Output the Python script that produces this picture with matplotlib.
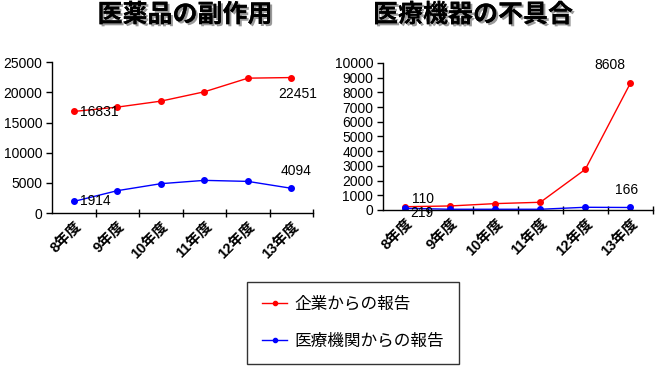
import matplotlib
matplotlib.use("Agg")
import matplotlib.pyplot as plt
import matplotlib.patheffects as pe

plt.rcParams['font.family'] = ['Liberation Sans', 'Noto Sans CJK JP']

# データ
years = ['8年度', '9年度', '10年度', '11年度', '12年度', '13年度']
drug_company = [16831, 17550, 18540, 20090, 22350, 22451]
drug_medical = [1914, 3700, 4860, 5410, 5240, 4094]
device_company = [219, 270, 430, 520, 2760, 8608]
device_medical = [110, 45, 45, 45, 180, 166]
series_names = ['企業からの報告', '医療機関からの報告']

fig = plt.figure(figsize=(6.58, 3.67), dpi=100)
ax1 = fig.add_axes([0.079, 0.4196, 0.397, 0.411])
ax2 = fig.add_axes([0.582, 0.428, 0.410, 0.4005])

x = list(range(len(years)))


def style_axis(ax, ymax, step):
    ax.set_xlim(-0.5, len(years) - 0.5)
    ax.set_ylim(0, ymax)
    ax.set_yticks(range(0, ymax + 1, step))
    ax.tick_params(axis='y', labelsize=10, length=4, width=1, pad=3)
    for s in ['top', 'right']:
        ax.spines[s].set_visible(False)
    ax.spines['left'].set_linewidth(1)
    ax.spines['bottom'].set_linewidth(1)
    # 目盛りは区切り位置、ラベルは中央
    ax.set_xticks([i + 0.5 for i in x[:-1]] + [len(years) - 0.5])
    ax.set_xticklabels([])
    ax.tick_params(axis='x', direction='inout', length=6, width=1)
    for i, yr in enumerate(years):
        ax.annotate(yr, (i, 0), xycoords=('data', 'axes fraction'),
                    xytext=(0, -6), textcoords='offset pixels',
                    rotation=45, ha='right', va='top', rotation_mode='anchor',
                    fontsize=10.5, fontweight='bold')


ax1.plot(x, drug_company, color='red', marker='o', markersize=4, lw=1)
ax1.plot(x, drug_medical, color='blue', marker='o', markersize=4, lw=1)
style_axis(ax1, 25000, 5000)

ax2.plot(x, device_company, color='red', marker='o', markersize=4, lw=1)
ax2.plot(x, device_medical, color='blue', marker='o', markersize=4, lw=1)
style_axis(ax2, 10000, 1000)

# データラベル
def label(ax, i, vals, dx, dy, ha='left'):
    ax.annotate(str(vals[i]), (i, vals[i]), xytext=(dx, dy),
                textcoords='offset pixels', fontsize=10, ha=ha, va='center')

label(ax1, 0, drug_company, 6, -1)
label(ax1, 5, drug_company, 6, -16, ha='center')
label(ax1, 0, drug_medical, 6, 0)
label(ax1, 5, drug_medical, 5, 17, ha='center')
label(ax2, 0, device_company, 5, -6)
label(ax2, 0, device_medical, 7, 9)
label(ax2, 5, device_company, -20, 18, ha='center')
label(ax2, 5, device_medical, -4, 17, ha='center')

# タイトル
shadow = [pe.withSimplePatchShadow(offset=(1.5, -1.5), shadow_rgbFace='gray', alpha=0.8), pe.Normal()]
fig.text(185 / 658, 1 - 15 / 367, '医薬品の副作用', fontsize=18, fontweight='bold',
         style='italic', ha='center', va='center', path_effects=shadow)
fig.text(473 / 658, 1 - 15 / 367, '医療機器の不具合', fontsize=18, fontweight='bold',
         style='italic', ha='center', va='center', path_effects=shadow)

# 凡例
h1, = ax2.plot([], [], color='red', marker='o', markersize=3, lw=1)
h2, = ax2.plot([], [], color='blue', marker='o', markersize=3, lw=1)
leg = fig.legend([h1, h2], series_names, loc='center',
                 bbox_to_anchor=(353 / 658, 1 - 323 / 367), fontsize=12,
                 frameon=True, fancybox=False, edgecolor='black',
                 labelspacing=1.3, handlelength=1.5, handletextpad=0.4,
                 borderpad=0.9, borderaxespad=0)
leg.get_frame().set_linewidth(1)

fig.savefig('out.png', dpi=100)
